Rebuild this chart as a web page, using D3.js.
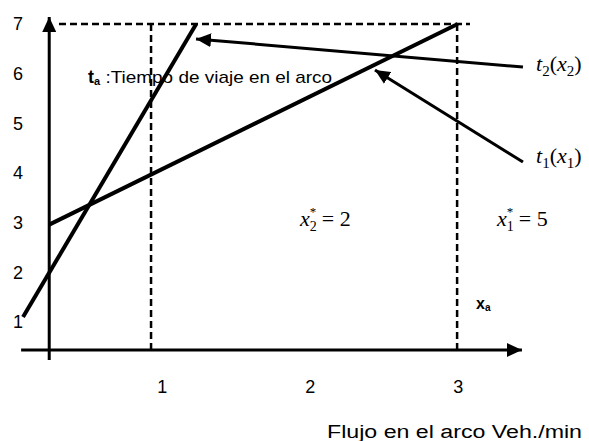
<!DOCTYPE html>
<html>
<head>
	<meta charset="utf-8">
	<title></title>
	<style>
		body { margin: 0; background: #fff; }
		text { font-family: "Liberation Sans", Arial, sans-serif; fill: #000; }
		.math { font-family: "Liberation Serif", "DejaVu Serif", serif; }
	</style>
</head>
<body>
	<svg id="container" width="589" height="441"></svg>
</body>
<script src="https://d3js.org/d3.v7.min.js"></script>
<script>
	// values
	let yTicks = [1, 2, 3, 4, 5, 6, 7]
	let xTicks = [1, 2, 3]
	let t1Line = [[0.24, 2.96], [3.0, 7]]        // t1(x1)
	let t2Line = [[0.063, 1.1], [1.233, 7]]      // t2(x2)
	let topGuide = [[0.306, 7], [3.083, 7]]
	let xGuides = [0.928, 2.996]
	let t2Pointer = [[3.441, 6.134], [1.232, 6.70]]
	let t1Pointer = [[3.441, 4.222], [2.441, 6.074]]

	let svg = d3.select("#container")

	let x = d3.scaleLinear().domain([0, 3]).range([13.7, 457.7])
	let y = d3.scaleLinear().domain([1, 7]).range([322, 24])

	let axisY = 0.437   // where the horizontal axis crosses, in t units
	let axisX = 0.24    // where the vertical axis sits, in flow units

	let defs = svg.append("defs")
	defs.append("marker")
		.attr("id", "head")
		.attr("markerUnits", "userSpaceOnUse")
		.attr("viewBox", "0 -7 15 14")
		.attr("refX", 15).attr("refY", 0)
		.attr("markerWidth", 15).attr("markerHeight", 14)
		.attr("orient", "auto")
		.append("path")
			.attr("d", "M0,-7L15,0L0,7Z")
			.attr("fill", "#000")

	let line = d3.line().x(d => x(d[0])).y(d => y(d[1]))

	// dashed guides
	svg.append("path")
		.attr("d", line(topGuide))
		.attr("stroke", "#000").attr("stroke-width", 2.3)
		.attr("stroke-dasharray", "7,4").attr("fill", "none")

	svg.selectAll(".vguide")
		.data(xGuides)
		.enter()
		.append("line")
			.attr("class", "vguide")
			.attr("x1", d => x(d)).attr("x2", d => x(d))
			.attr("y1", y(7)).attr("y2", y(axisY))
			.attr("stroke", "#000").attr("stroke-width", 2.5)
			.attr("stroke-dasharray", "7,4")

	// axes
	svg.append("line")
		.attr("x1", x(axisX)).attr("x2", x(axisX))
		.attr("y1", y(0.235)).attr("y2", y(7.14))
		.attr("stroke", "#000").attr("stroke-width", 3)
		.attr("marker-end", "url(#head)")

	svg.append("line")
		.attr("x1", x(0.05)).attr("x2", x(3.434))
		.attr("y1", y(axisY)).attr("y2", y(axisY))
		.attr("stroke", "#000").attr("stroke-width", 3)
		.attr("marker-end", "url(#head)")

	let gy = svg.append("g")
		.attr("transform", "translate(23,0)")
		.call(d3.axisLeft(y).tickValues(yTicks).tickSize(0).tickPadding(0).tickFormat(d3.format("d")))
	gy.select(".domain").remove()
	gy.selectAll("text")
		.style("font-family", "Liberation Sans, Arial, sans-serif")
		.style("font-size", "18px")

	let gx = svg.append("g")
		.attr("transform", `translate(0,${y(axisY)})`)
		.call(d3.axisBottom(x).tickValues(xTicks).tickSize(0).tickPadding(30).tickFormat(d3.format("d")))
	gx.select(".domain").remove()
	gx.selectAll("text")
		.style("font-family", "Liberation Sans, Arial, sans-serif")
		.style("font-size", "18px")

	// travel time lines
	svg.selectAll(".tline")
		.data([t1Line, t2Line])
		.enter()
		.append("path")
			.attr("class", "tline")
			.attr("d", line)
			.attr("stroke", "#000").attr("stroke-width", 4)
			.attr("fill", "none")

	// pointers to the curve labels
	svg.selectAll(".pointer")
		.data([t2Pointer, t1Pointer])
		.enter()
		.append("path")
			.attr("class", "pointer")
			.attr("d", line)
			.attr("stroke", "#000").attr("stroke-width", 3)
			.attr("fill", "none")
			.attr("marker-end", "url(#head)")

	// texts
	let title = svg.append("text")
		.attr("x", 88).attr("y", 83)
		.style("font-size", "17px")
	title.append("tspan").text("t").style("font-weight", "bold").style("font-size", "18px")
	title.append("tspan").text("a").style("font-weight", "bold")
		.style("font-size", "11px").attr("dy", 2)
	title.append("tspan").text(" :Tiempo de viaje en el arco").attr("dy", -2)
		.attr("textLength", 232).attr("lengthAdjust", "spacingAndGlyphs")

	svg.append("text")
		.attr("x", 327).attr("y", 438)
		.style("font-size", "18px")
		.attr("textLength", 255).attr("lengthAdjust", "spacingAndGlyphs")
		.text("Flujo en el arco Veh./min")

	let xa = svg.append("text")
		.attr("x", 476).attr("y", 309)
		.style("font-size", "16px").style("font-weight", "bold")
	xa.append("tspan").text("x")
	xa.append("tspan").text("a").style("font-size", "10px").attr("dy", 2)

	function mathLabel(px, py, sub, rest) {
		let t = svg.append("text").attr("class", "math")
			.attr("x", px).attr("y", py)
			.style("font-size", "22px")
		t.append("tspan").text("x").style("font-style", "italic")
		t.append("tspan").text(sub).style("font-size", "14px").attr("dy", 5)
		t.append("tspan").text("*").style("font-size", "13px")
			.attr("dx", -7).attr("dy", -15)
		t.append("tspan").text(rest).attr("dy", 10)
		return t
	}

	function curveLabel(px, py, k) {
		let t = svg.append("text").attr("class", "math").attr("x", px).attr("y", py).style("font-size", "22px")
		t.append("tspan").text("t").style("font-style", "italic")
		t.append("tspan").text(k).style("font-size", "15px").attr("dy", 5)
		t.append("tspan").text("(").attr("dy", -5)
		t.append("tspan").text("x").style("font-style", "italic")
		t.append("tspan").text(k).style("font-size", "15px").attr("dy", 5)
		t.append("tspan").text(")").attr("dy", -5)
		return t
	}

	curveLabel(536, 71, "2")
	curveLabel(536, 163, "1")

	mathLabel(300, 226, "2", " = 2")
	mathLabel(497, 226, "1", " = 5")
</script>
</html>
